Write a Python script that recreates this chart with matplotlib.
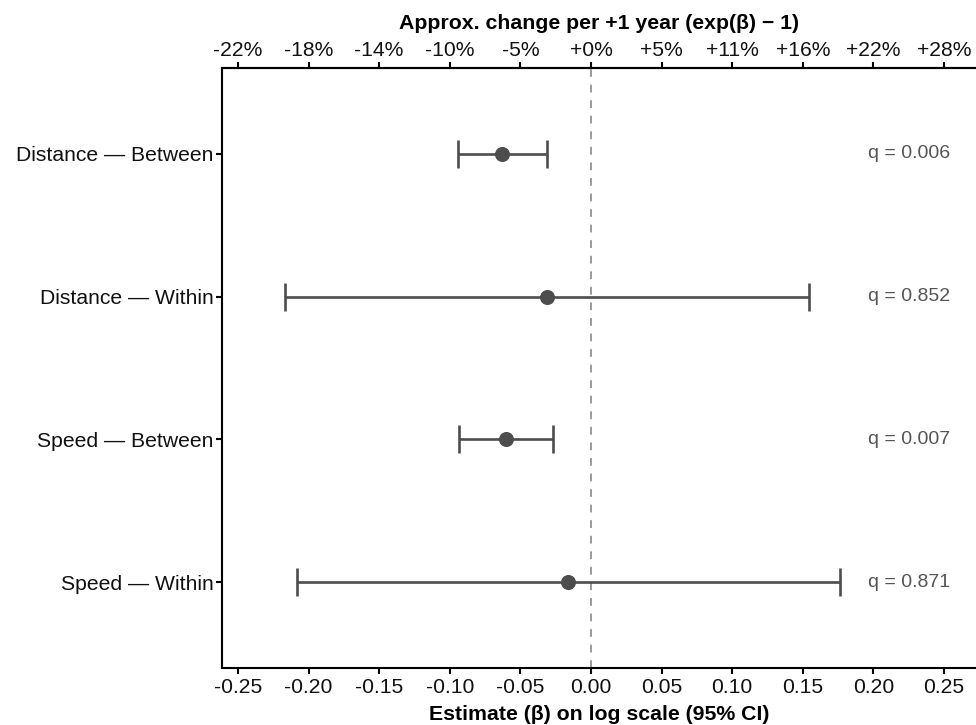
import matplotlib
matplotlib.use("Agg")
import matplotlib.pyplot as plt

plt.rcParams['font.family'] = ['Liberation Sans', 'DejaVu Sans']

categories = ["Distance — Between", "Distance — Within", "Speed — Between", "Speed — Within"]
estimates = [-0.0628, -0.0309, -0.0602, -0.0161]
ci_low = [-0.0940, -0.2167, -0.0935, -0.2084]
ci_high = [-0.0314, 0.1546, -0.0271, 0.1763]
q_labels = ["q = 0.006", "q = 0.852", "q = 0.007", "q = 0.871"]
x_ticks = [-0.25, -0.20, -0.15, -0.10, -0.05, 0.00, 0.05, 0.10, 0.15, 0.20, 0.25]
x_tick_labels = ["-0.25", "-0.20", "-0.15", "-0.10", "-0.05", "0.00", "0.05", "0.10", "0.15", "0.20", "0.25"]
top_tick_labels = ["-22%", "-18%", "-14%", "-10%", "-5%", "+0%", "+5%", "+11%", "+16%", "+22%", "+28%"]

W, H = 976, 725
fig = plt.figure(figsize=(W / 100, H / 100), dpi=100)
left, right, top, bottom = 222, 976, 68, 668
ax = fig.add_axes([left / W, 1 - bottom / H, (right - left) / W, (bottom - top) / H])

n = len(categories)
ypos = [n - i for i in range(n)]
col = "#4d4d4d"

ax.axvline(0, color="#9a9a9a", linestyle=(0, (4, 4)), lw=1.4, zorder=1)
for y, e, lo, hi in zip(ypos, estimates, ci_low, ci_high):
    ax.errorbar([e], [y], xerr=[[e - lo], [hi - e]], fmt='o', color=col,
                ecolor=col, elinewidth=1.9, capsize=10, capthick=1.9,
                markersize=9.8, zorder=3)

q_x = 0.196
for y, q in zip(ypos, q_labels):
    ax.text(q_x, y, q, ha='left', va='center', fontsize=14, color="#555555")

ax.set_xlim(-0.2613, 0.2726)
ax.set_ylim(0.4, n + 0.6)
ax.set_yticks(ypos)
ax.set_yticklabels(categories, fontsize=15.2, color="#111111")
ax.set_xticks(x_ticks)
ax.set_xticklabels(x_tick_labels, fontsize=15.2, color="#111111")
ax.set_xlabel("Estimate (β) on log scale (95% CI)", fontsize=15.3, fontweight='bold', labelpad=6)

for s in ['left', 'bottom', 'top']:
    ax.spines[s].set_linewidth(1.5)
    ax.spines[s].set_color('black')
ax.spines['right'].set_visible(False)
ax.tick_params(axis='x', length=4, width=1.5, pad=3)
ax.tick_params(axis='y', length=4, width=1.5, pad=2)

ax2 = ax.twiny()
ax2.set_xlim(ax.get_xlim())
ax2.set_xticks(x_ticks)
ax2.set_xticklabels(top_tick_labels, fontsize=15.2, color="#111111")
ax2.set_xlabel("Approx. change per +1 year (exp(β) − 1)", fontsize=15.3, fontweight='bold', labelpad=9)
ax2.spines['right'].set_visible(False)
ax2.spines['left'].set_visible(False)
ax2.spines['bottom'].set_visible(False)
ax2.spines['top'].set_linewidth(1.5)
ax2.tick_params(axis='x', length=4, width=1.5, pad=1.5)

fig.savefig("out.png", dpi=100, facecolor='white')
